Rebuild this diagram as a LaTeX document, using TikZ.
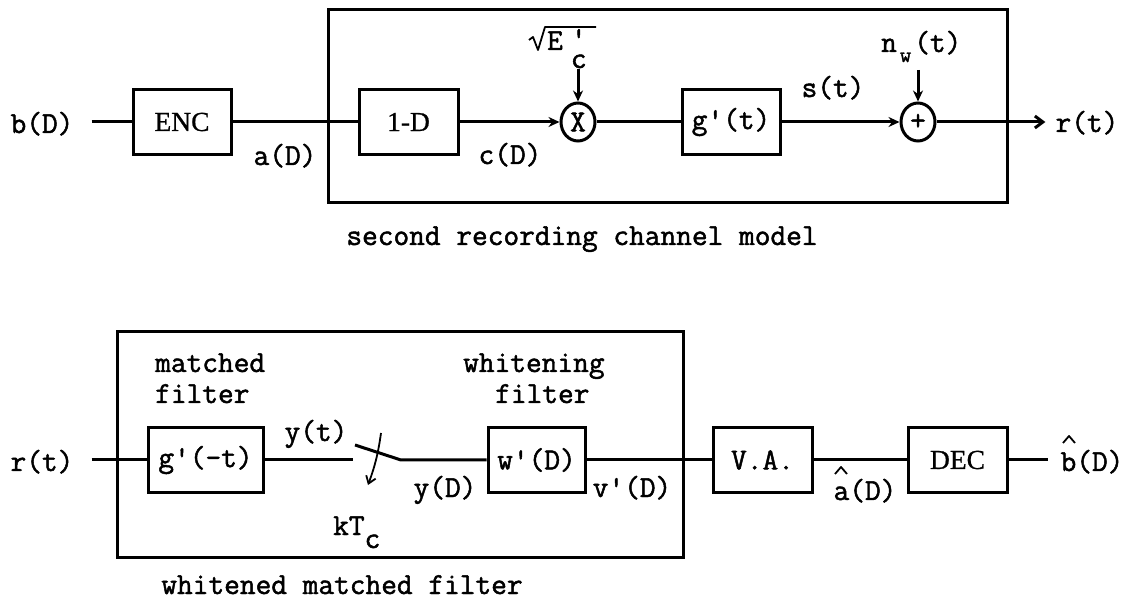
\documentclass[tikz,border=0pt]{standalone}
\usepackage{fontspec}
\newfontfamily\encfont{Liberation Serif}[FakeBold=0.8]
\newfontfamily\tw{Latin Modern Mono}[FakeBold=1.6]
\usetikzlibrary{arrows.meta,shapes.geometric}
\newcommand\mono{\fontsize{30.5}{32}\selectfont\tw}
\newcommand\serf{\fontsize{27.5}{30}\selectfont\encfont}
\tikzset{
  wire/.style={line width=3pt},
  blk/.style={draw, line width=3pt, inner sep=0pt, minimum height=65pt},
  lab/.style={inner sep=0pt, font=\mono},
  tip/.style={-{Stealth[length=11pt,width=10pt]}},
  sumnode/.style={draw, ellipse, line width=3pt, minimum width=34pt, minimum height=38pt, inner sep=0pt},
  frame/.style={draw, line width=3pt, inner sep=0pt},
  hat/.style={line width=1.8pt, line join=round},
}
\begin{document}
\begin{tikzpicture}[x=1pt,y=-1pt]
\useasboundingbox (0,0) rectangle (1133,601);
% ---------------- top: recording channel ----------------
\node[frame, minimum width=679pt, minimum height=193pt] (chan) at (667.5,106.5) {};
\node[lab, anchor=base] (bD) at (42,133) {b(D)};
\node[blk, minimum width=98pt, font=\serf] (enc) at (182,122) {ENC};
\node[lab, anchor=base] (aD) at (285,165) {a(D)};
\node[blk, minimum width=99pt, font=\serf] (oneD) at (408.5,122) {1-D};
\node[lab, anchor=base] (cD) at (510,164) {c(D)};
\node[sumnode, font=\mono] (mul) at (578,122) {X};
\node[lab, anchor=base west] (E) at (547,50) {E\kern8pt\rlap{\raisebox{2pt}{'}}\raisebox{-18pt}{c}};
\draw[line width=1.8pt, line join=round] (529,40) -- (533,37) -- (538,50) -- (545,27) -- (596,27);
\coordinate (sq) at (578,69);
\node[blk, minimum width=98pt, font=\mono] (gt) at (731,122) {g'(t)};
\node[lab, anchor=base] (sT) at (833,97) {s(t)};
\node[sumnode, font=\mono] (add) at (918,122) {+};
\node[lab, anchor=base west] (nw) at (881,52) {n\kern3pt\raisebox{-10pt}{\fontsize{22}{22}\selectfont w}\kern3pt(t)};
\coordinate (nwc) at (918,70);
\node[lab, anchor=base] (rt) at (1087,132) {r(t)};
\node[lab, anchor=base] (cap1) at (582,245) {second recording channel model};

\draw[wire] ([xshift=18pt]bD.east |- enc.west) -- (enc.west);
\draw[wire] (enc.east) -- (oneD.west);
\draw[wire, tip] (oneD.east) -- (mul.west);
\draw[wire, tip] (sq) -- (mul.north);
\draw[wire] (mul.east) -- (gt.west);
\draw[wire, tip] (gt.east) -- (add.west);
\draw[wire, tip] (nwc) -- (add.north);
\draw[wire, -{Straight Barb[length=8pt,width=12pt]}] (add.east) -- ([xshift=-10pt]rt.west |- add.east);

% ---------------- bottom: whitened matched filter ----------------
\node[frame, minimum width=566pt, minimum height=225pt] (wmf) at (400,444.5) {};
\node[lab, anchor=base] (rt2) at (42,471) {r(t)};
\node[lab, anchor=base west] (mf1) at (155,372) {matched};
\node[lab, anchor=base west] (mf2) at (155,403) {filter};
\node[blk, minimum width=115pt, font=\mono] (gm) at (205.5,460) {g'(-t)};
\node[lab, anchor=base] (yt) at (316,441) {y(t)};
\coordinate (swa) at (353,460);
\coordinate (swb) at (355,445);
\coordinate (swc) at (401,460);
\coordinate (ka) at (381,433);
\coordinate (kb) at (368,485);
\node[lab, anchor=base west] (kT) at (333,535) {kT\raisebox{-13pt}{c}};
\node[lab, anchor=base west] (wf1) at (463,372) {whitening};
\node[lab, anchor=base west] (wf2) at (495,403) {filter};
\node[blk, minimum width=97pt, font=\mono] (wD) at (536.5,460) {w'(D)};
\node[lab, anchor=base] (yD) at (445,497) {y(D)};
\node[lab, anchor=base] (vD) at (632,497) {v'(D)};
\node[blk, minimum width=99pt, font=\mono] (va) at (762.5,460) {V.A.};
\node[lab, anchor=base] (ahat) at (865,500) {a(D)};
\draw[hat] (835,474) -- (841,467) -- (847,474);
\node[blk, minimum width=99pt, font=\serf] (dec) at (957.5,460) {DEC};
\node[lab, anchor=base] (bhat) at (1092,471) {b(D)};
\draw[hat] (1063,443) -- (1069,436) -- (1075,443);
\node[lab, anchor=base] (cap2) at (342,594) {whitened matched filter};

\draw[wire] ([xshift=18pt]rt2.east |- gm.west) -- (gm.west);
\draw[wire] (gm.east) -- (swa);
\draw[wire] (swb) -- (swc) -- (wD.west);
\draw[line width=1.8pt, -{Straight Barb[length=7pt,width=10pt]}] (ka) to[bend left=6] (kb);
\draw[wire] (wD.east) -- (va.west);
\draw[wire] (va.east) -- (dec.west);
\draw[wire] (dec.east) -- ([xshift=-12pt]bhat.west |- dec.east);
\end{tikzpicture}
\end{document}
